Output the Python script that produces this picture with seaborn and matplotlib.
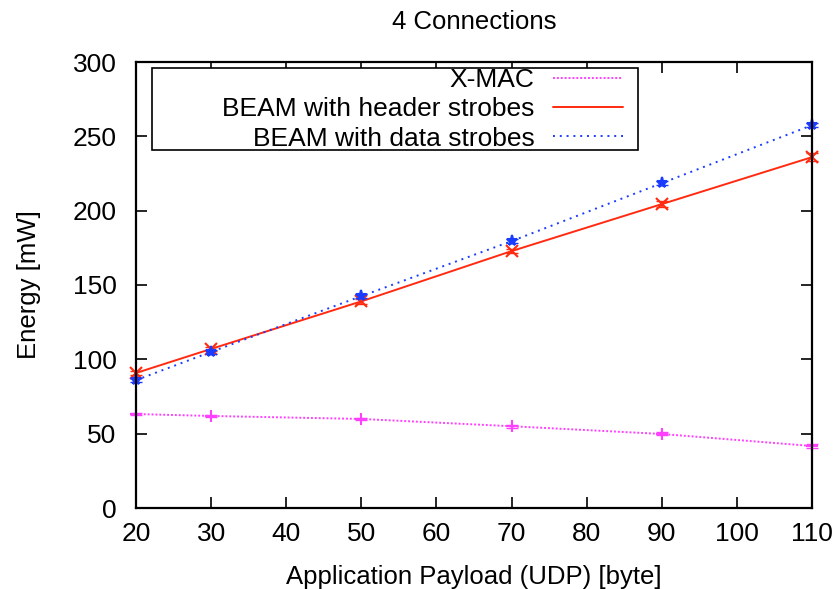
import matplotlib
matplotlib.use("Agg")
import matplotlib.pyplot as plt
import seaborn as sns
import pandas as pd
from matplotlib.lines import Line2D
from matplotlib.patches import Rectangle

payload = [20, 30, 50, 70, 90, 110]
xmac = [63.2, 61.9, 59.9, 55.0, 49.8, 41.7]
beam_header = [90.8, 107.0, 139.0, 172.8, 204.4, 236.0]
beam_data = [86.0, 105.0, 142.5, 179.5, 218.5, 257.5]
xmac_err = [0.8, 0.8, 0.8, 1.0, 1.0, 1.2]
beam_header_err = [1.5, 1.5, 1.5, 1.5, 2.0, 2.5]
beam_data_err = [1.2, 1.2, 1.2, 1.2, 1.2, 1.5]

labels = ["X-MAC", "BEAM with header strobes", "BEAM with data strobes"]
colors = ["#ff40ff", "#ff2a10", "#1a3cff"]
linestyles = [(0, (1, 1)), "-", (0, (1, 2.5))]
markers = ["+", "x", "*"]

sns.set_style("ticks")
plt.rcParams['font.family'] = ['Liberation Sans', 'DejaVu Sans']
plt.rcParams['text.color'] = 'black'
plt.rcParams['axes.labelcolor'] = 'black'
plt.rcParams['xtick.color'] = 'black'
plt.rcParams['ytick.color'] = 'black'

fig = plt.figure(figsize=(8.4, 5.89), dpi=100)
ax = fig.add_axes([136/840, 1-508/589, (812-136)/840, (508-62)/589])

series = [xmac, beam_header, beam_data]
errs = [xmac_err, beam_header_err, beam_data_err]
for yv, err, c, ls, m, lab in zip(series, errs, colors, linestyles, markers, labels):
    df = pd.DataFrame({"x": payload, "y": yv})
    sns.lineplot(data=df, x="x", y="y", color=c, linestyle=ls, marker=m,
                 markersize=8, markeredgewidth=1.5, markeredgecolor=c,
                 linewidth=1.4, ax=ax, legend=False, clip_on=False)
    ax.errorbar(payload, yv, yerr=err, fmt="none", ecolor=c, elinewidth=1.2, capsize=4,
                clip_on=False)

# legend frame (box wider than its content, like gnuplot)
x0, x1 = (152-136)/676, (638-136)/676
y0, y1 = (508-150)/446, (508-68)/446
ax.add_patch(Rectangle((x0, y0), x1-x0, y1-y0, transform=ax.transAxes,
                       facecolor="white", edgecolor="black", lw=1.2, zorder=4))

handles = [Line2D([], [], color=c, linestyle=ls, lw=1.4) for c, ls in zip(colors, linestyles)]
leg = ax.legend(handles, labels, loc="upper right", bbox_to_anchor=(x1 - 0.018, y1 + 0.007),
                markerfirst=False, fontsize=19, frameon=False,
                handlelength=2.65, borderpad=0.12,
                labelspacing=0.2, handletextpad=0.7, borderaxespad=0)
leg.set_zorder(5)
leg._legend_box.align = "right"
for hp in leg._legend_handle_box.get_children():
    hp.align = "right"

ax.set_xlim(20, 110)
ax.set_ylim(0, 300)
ax.set_xticks([20, 30, 40, 50, 60, 70, 80, 90, 100, 110])
ax.set_yticks([0, 50, 100, 150, 200, 250, 300])
ax.tick_params(direction="in", top=True, right=True, labelsize=19, length=8, width=1.2)
ax.tick_params(axis="x", pad=10)
ax.tick_params(axis="y", pad=14)
for s in ax.spines.values():
    s.set_linewidth(1.6)
    s.set_color("black")
    s.set_visible(True)

ax.set_xlabel("Application Payload (UDP) [byte]", fontsize=18.5, labelpad=14)
ax.set_ylabel("Energy [mW]", fontsize=18.5, labelpad=23)
ax.set_title("4 Connections", fontsize=18.5, pad=24)

fig.savefig("out.png", dpi=100)
